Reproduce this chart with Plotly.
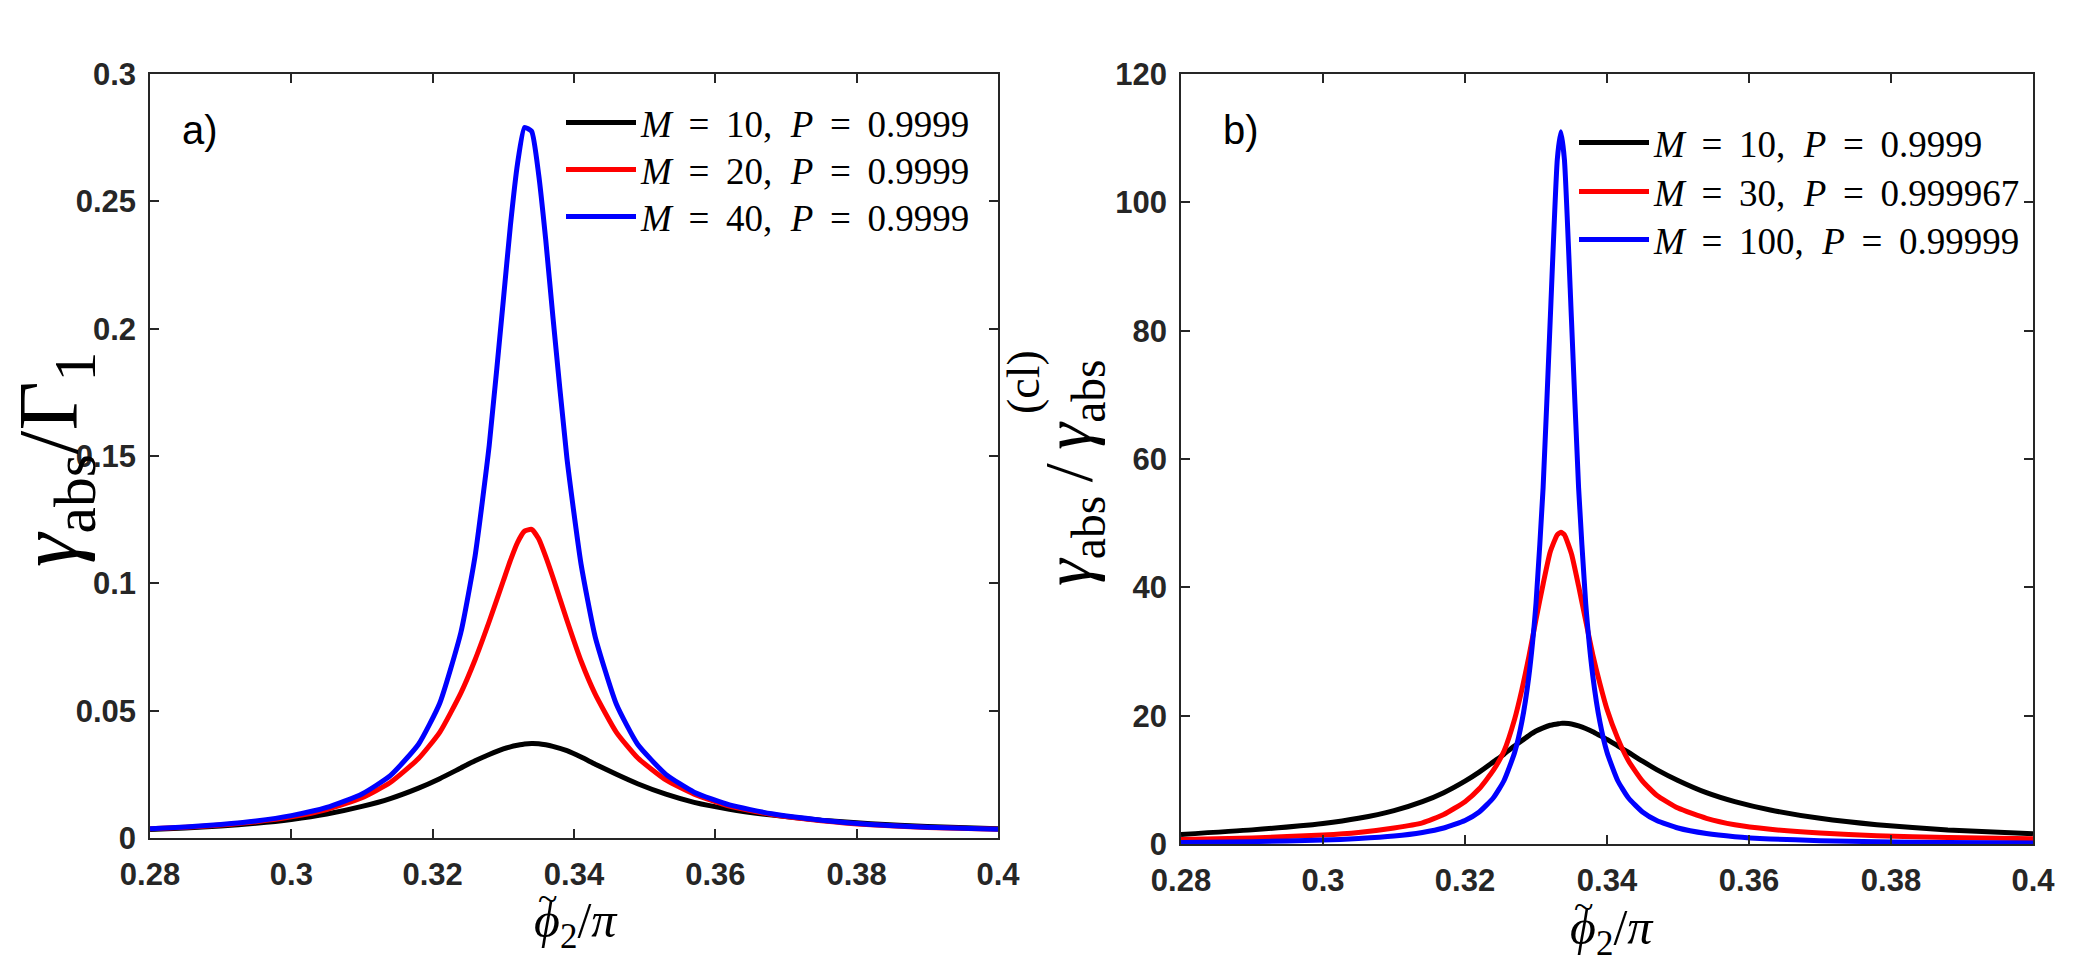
import plotly.graph_objects as go

# ---------------- data ----------------
x_a = [0.280, 0.285, 0.290, 0.295, 0.300, 0.305, 0.310, 0.314, 0.318, 0.321,
       0.324, 0.326, 0.328, 0.330, 0.331, 0.332, 0.333, 0.334, 0.335, 0.336,
       0.337, 0.339, 0.341, 0.343, 0.346, 0.349, 0.353, 0.357, 0.362, 0.368,
       0.375, 0.382, 0.390, 0.400]
a_m10 = [0.0033, 0.0039, 0.0047, 0.0058, 0.0073, 0.0094, 0.0124, 0.0155, 0.0196, 0.0233,
         0.0275, 0.0303, 0.0328, 0.0350, 0.0358, 0.0364, 0.0369, 0.0371, 0.0370, 0.0366,
         0.0360, 0.0343, 0.0318, 0.0290, 0.0250, 0.0213, 0.0172, 0.0140, 0.0113, 0.0090,
         0.0070, 0.0056, 0.0045, 0.0036]
a_m20 = [0.0036, 0.0042, 0.0051, 0.0064, 0.0083, 0.0112, 0.0158, 0.0218, 0.0312, 0.0415,
         0.0570, 0.0700, 0.0850, 0.1010, 0.1090, 0.1160, 0.1205, 0.1212, 0.1175, 0.1105,
         0.1025, 0.0855, 0.0695, 0.0565, 0.0415, 0.0315, 0.0228, 0.0172, 0.0125, 0.0092,
         0.0068, 0.0052, 0.0041, 0.0034]
a_m40 = [0.0036, 0.0043, 0.0053, 0.0067, 0.0088, 0.0120, 0.0173, 0.0245, 0.0368, 0.0529,
         0.0808, 0.1107, 0.1541, 0.2112, 0.2405, 0.2646, 0.2790, 0.2775, 0.2605, 0.2349,
         0.2051, 0.1491, 0.1075, 0.0790, 0.0525, 0.0368, 0.0250, 0.0180, 0.0130, 0.0095,
         0.0070, 0.0053, 0.0042, 0.0034]

x_b = [0.280, 0.290, 0.300, 0.305, 0.310, 0.314, 0.317, 0.320, 0.322, 0.324,
       0.3255, 0.327, 0.328, 0.329, 0.330, 0.331, 0.332, 0.333, 0.3335, 0.334,
       0.335, 0.336, 0.337, 0.338, 0.339, 0.340, 0.3415, 0.343, 0.345, 0.347,
       0.350, 0.354, 0.358, 0.363, 0.370, 0.378, 0.388, 0.400]
b_m10 = [1.5, 2.2, 3.2, 4.0, 5.2, 6.6, 8.0, 9.8, 11.2, 12.8,
         14.0, 15.3, 16.1, 16.9, 17.6, 18.1, 18.5, 18.7, 18.8, 18.8,
         18.7, 18.4, 18.0, 17.5, 16.9, 16.3, 15.3, 14.3, 12.9, 11.6,
         9.9, 8.0, 6.6, 5.3, 4.0, 3.0, 2.2, 1.6]
b_m30 = [0.7, 0.95, 1.4, 1.8, 2.5, 3.3, 4.6, 6.6, 8.6, 11.5,
         14.5, 19.5, 24.0, 29.2, 35.0, 40.5, 45.5, 48.2, 48.6, 48.2,
         45.2, 40.2, 34.8, 29.5, 25.0, 21.0, 16.5, 13.0, 9.8, 7.6,
         5.6, 4.0, 3.0, 2.3, 1.7, 1.3, 1.0, 0.8]
b_m100 = [0.25, 0.37, 0.61, 0.85, 1.24, 1.80, 2.49, 3.68, 5.0, 7.2,
          9.9, 14.3, 19.0, 26.2, 37.5, 55.5, 81.6, 106.7, 111.0, 106.7,
          81.6, 55.5, 37.5, 26.2, 19.0, 14.3, 9.9, 7.2, 5.0, 3.68,
          2.49, 1.63, 1.14, 0.79, 0.52, 0.35, 0.23, 0.16]

x_tick_vals = [0.28, 0.30, 0.32, 0.34, 0.36, 0.38, 0.40]
x_tick_text = ["0.28", "0.3", "0.32", "0.34", "0.36", "0.38", "0.4"]
ya_tick_vals = [0, 0.05, 0.10, 0.15, 0.20, 0.25, 0.30]
ya_tick_text = ["0", "0.05", "0.1", "0.15", "0.2", "0.25", "0.3"]
yb_tick_vals = [0, 20, 40, 60, 80, 100, 120]
yb_tick_text = ["0", "20", "40", "60", "80", "100", "120"]

TS = "\u2009"  # thin space, widens the spacing around '=' like TeX math
def lbl(m, p):
    return f"<i>M</i>{TS} = {TS}{m},  <i>P</i>{TS} = {TS}{p}"

names_a = [lbl(10, "0.9999"), lbl(20, "0.9999"), lbl(40, "0.9999")]
names_b = [lbl(10, "0.9999"), lbl(30, "0.999967"), lbl(100, "0.99999")]
colors = ["#000000", "#ff0000", "#0000ff"]

# ---------------- figure ----------------
W, H = 2073, 973
def px_x(p):
    return p / W
def px_y(p):
    return (H - p) / H

fig = go.Figure()
leg_ids = ["legend", "legend2", "legend3", "legend4", "legend5", "legend6"]

for i, (ys, nm, c) in enumerate(zip([a_m10, a_m20, a_m40], names_a, colors)):
    fig.add_trace(go.Scatter(x=x_a, y=ys, mode="lines", name=nm,
                             line=dict(color=c, width=5, shape="spline", smoothing=0.5),
                             xaxis="x", yaxis="y", legend=leg_ids[i]))
for i, (ys, nm, c) in enumerate(zip([b_m10, b_m30, b_m100], names_b, colors)):
    fig.add_trace(go.Scatter(x=x_b, y=ys, mode="lines", name=nm,
                             line=dict(color=c, width=5, shape="spline", smoothing=0.5),
                             xaxis="x2", yaxis="y2", legend=leg_ids[3 + i]))

axcol = "#262626"
tickfont = dict(family="Liberation Sans", size=31, color=axcol, weight="bold")
common = dict(showline=True, linecolor=axcol, linewidth=1.5, mirror="ticks",
              ticks="inside", ticklen=9, tickwidth=1.5, tickcolor=axcol,
              showgrid=False, zeroline=False, tickfont=tickfont, automargin=False)

legfont = dict(family="Liberation Serif", size=37, color="black")
def leg(xp, yp):
    return dict(x=px_x(xp), y=px_y(yp), xanchor="left", yanchor="middle",
                bgcolor="rgba(0,0,0,0)", itemwidth=70, font=legfont)

rows_a = [123, 170, 217]
rows_b = [143, 192, 240]
legends = {}
for i in range(3):
    legends[leg_ids[i]] = leg(561, rows_a[i])
    legends[leg_ids[3 + i]] = leg(1574, rows_b[i])

fig.update_layout(
    width=W, height=H, autosize=False,
    margin=dict(l=0, r=0, t=0, b=0, autoexpand=False),
    paper_bgcolor="white", plot_bgcolor="white",
    xaxis=dict(domain=[px_x(150), px_x(998)], range=[0.28, 0.40], anchor="y",
               tickvals=x_tick_vals, ticktext=x_tick_text, ticklabelstandoff=8, **common),
    yaxis=dict(domain=[px_y(838), px_y(74)], range=[0, 0.30], anchor="x",
               tickvals=ya_tick_vals, ticktext=ya_tick_text, ticklabelstandoff=6, **common),
    xaxis2=dict(domain=[px_x(1181), px_x(2033)], range=[0.28, 0.40], anchor="y2",
                tickvals=x_tick_vals, ticktext=x_tick_text, ticklabelstandoff=8, **common),
    yaxis2=dict(domain=[px_y(844), px_y(74)], range=[0, 120], anchor="x2",
                tickvals=yb_tick_vals, ticktext=yb_tick_text, ticklabelstandoff=6, **common),
    showlegend=True,
    **legends,
)

serif = "Liberation Serif"
annos = [
    dict(text="a)", x=px_x(180), y=px_y(130), xanchor="left", yanchor="middle",
         font=dict(family="Liberation Sans", size=40, color="black")),
    dict(text="b)", x=px_x(1221), y=px_y(130), xanchor="left", yanchor="middle",
         font=dict(family="Liberation Sans", size=40, color="black")),
    # left y title
    dict(text="<i>γ</i><sub>abs</sub>/Γ<sub>1</sub>", x=px_x(54), y=px_y(460),
         xanchor="center", yanchor="middle", textangle=-90,
         font=dict(family=serif, size=85, color="black")),
    # right y title (superscript placed beside the second subscript, as stacked in TeX)
    dict(text=f"<i>γ</i><sub>abs</sub>{TS}/{TS}<i>γ</i><sub>abs</sub>", x=px_x(1072), y=px_y(473),
         xanchor="center", yanchor="middle", textangle=-90,
         font=dict(family=serif, size=68, color="black")),
    dict(text="(cl)", x=px_x(1023), y=px_y(382),
         xanchor="center", yanchor="middle", textangle=-90,
         font=dict(family=serif, size=46, color="black")),
    # x titles
    dict(text="<i>ϕ</i><sub>2</sub>/<i>π</i>", x=px_x(576), y=px_y(924),
         xanchor="center", yanchor="middle",
         font=dict(family=serif, size=50, color="black")),
    dict(text="~", x=px_x(547), y=px_y(899),
         xanchor="center", yanchor="middle",
         font=dict(family=serif, size=36, color="black")),
    dict(text="<i>ϕ</i><sub>2</sub>/<i>π</i>", x=px_x(1612), y=px_y(931),
         xanchor="center", yanchor="middle",
         font=dict(family=serif, size=50, color="black")),
    dict(text="~", x=px_x(1583), y=px_y(907),
         xanchor="center", yanchor="middle",
         font=dict(family=serif, size=36, color="black")),
]
for a in annos:
    a.update(xref="paper", yref="paper", showarrow=False)
fig.update_layout(annotations=annos)

fig.write_html("out.html", post_script="document.body.style.margin='0';")
